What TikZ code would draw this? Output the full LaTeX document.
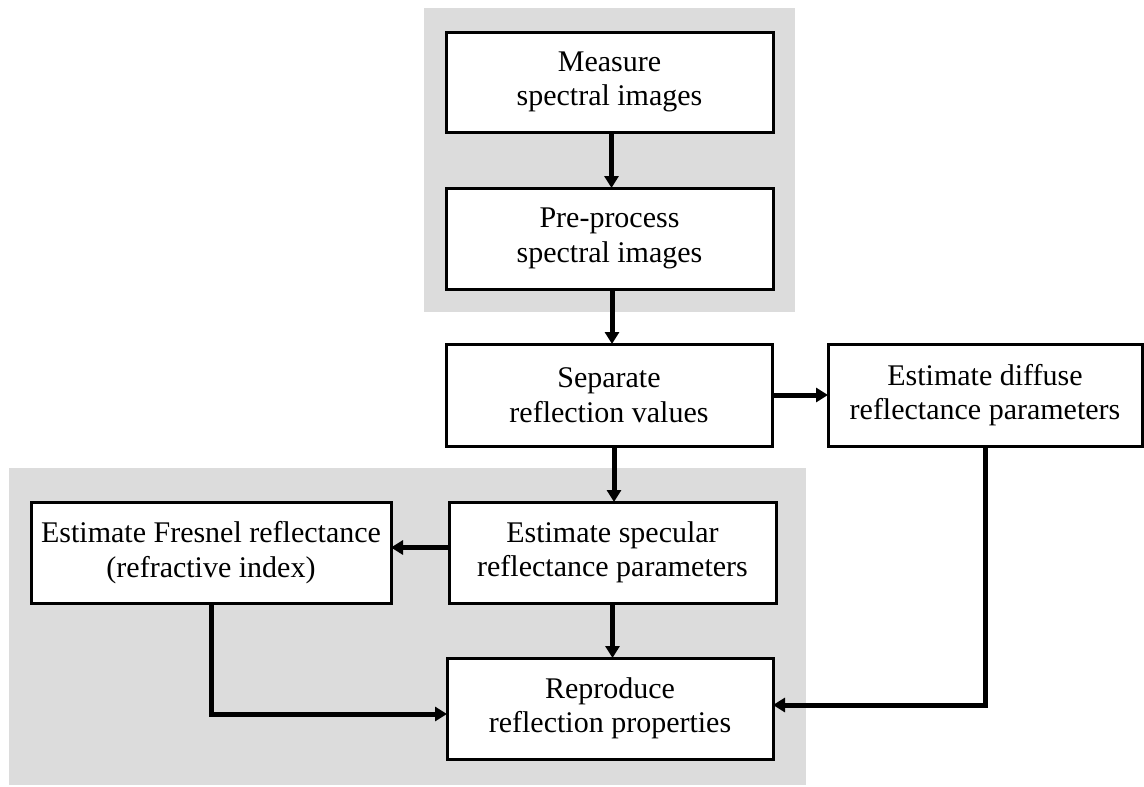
\documentclass[tikz,border=0pt]{standalone}
\usepackage{fontspec}
\setmainfont{Liberation Serif}
\usetikzlibrary{arrows.meta}
\definecolor{bggray}{RGB}{220,220,220}
\tikzset{
  stepbox/.style={draw=black, fill=white, line width=3pt, inner sep=0pt, outer sep=0pt,
    align=center, font=\fontsize{30}{34.5}\selectfont},
  arr/.style={line width=5pt, -{Triangle[length=12pt,width=14pt]}},
  bgpanel/.style={fill=bggray, draw=none}
}
\begin{document}
\begin{tikzpicture}[x=1pt,y=-1pt]
\useasboundingbox (0,0) rectangle (1144,787);
\fill[white] (0,0) rectangle (1144,787);
% background panels
\path[bgpanel] (424,8) rectangle (795,312);
\path[bgpanel] (9,468) rectangle (806,785);
% boxes
\node[stepbox, minimum width=327pt, minimum height=100pt] (meas) at (609.5,82) {Measure\\spectral images};
\node[stepbox, minimum width=327pt, minimum height=101pt] (pre) at (609.5,238.5) {Pre-process\\spectral images};
\node[stepbox, minimum width=326pt, minimum height=102pt] (sep) at (609,395) {Separate\\reflection values};
\node[stepbox, minimum width=314pt, minimum height=102pt] (diff) at (985,395) {Estimate diffuse\\reflectance parameters};
\node[stepbox, minimum width=360pt, minimum height=101pt] (fres) at (211,552.5) {Estimate Fresnel reflectance\\(refractive index)};
\node[stepbox, minimum width=327pt, minimum height=101pt] (spec) at (612.5,552.5) {Estimate specular\\reflectance parameters};
\node[stepbox, minimum width=326pt, minimum height=101pt] (rep) at (610,708.5) {Reproduce\\reflection properties};
% connectors
\draw[arr] ([xshift=2pt]meas.south) -- ([xshift=2pt]meas.south |- pre.north);
\draw[arr] ([xshift=2.5pt]pre.south) -- ([xshift=2.5pt]pre.south |- sep.north);
\draw[arr] (sep.east) -- (diff.west);
\draw[arr] ([xshift=5pt]sep.south) -- ([xshift=5pt]sep.south |- spec.north);
\draw[arr] ([yshift=5pt]spec.west) -- ([yshift=5pt]spec.west -| fres.east);
\draw[arr] (spec.south) -- (spec.south |- rep.north);
\draw[arr] (fres.south) |- ([yshift=-5.5pt]rep.west);
\draw[arr] (diff.south) |- ([yshift=3.5pt]rep.east);
\end{tikzpicture}
\end{document}
